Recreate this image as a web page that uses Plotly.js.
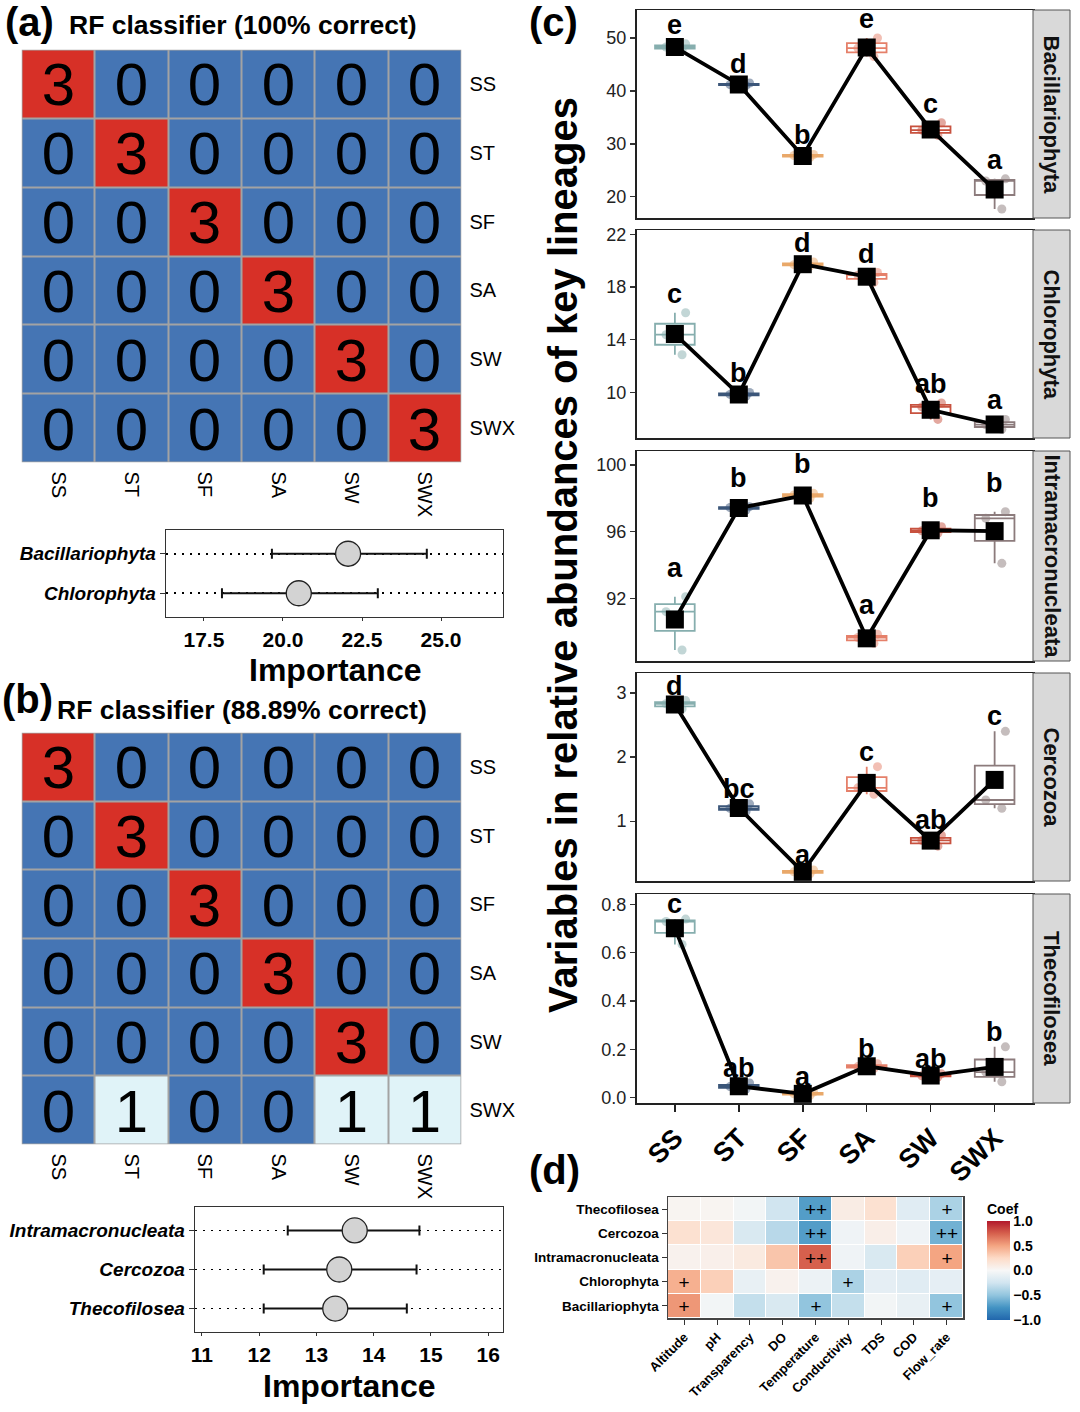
<!DOCTYPE html>
<html><head><meta charset="utf-8">
<script src="https://cdn.plot.ly/plotly-3.0.1.min.js"></script>
<style>html,body{margin:0;padding:0;background:#fff}#chart{width:1080px;height:1412px}</style>
</head><body><div id="chart"></div>
<script>
// ---------------- DATA ----------------
const classes = ['SS','ST','SF','SA','SW','SWX'];

const matrixA = [
  [3,0,0,0,0,0],
  [0,3,0,0,0,0],
  [0,0,3,0,0,0],
  [0,0,0,3,0,0],
  [0,0,0,0,3,0],
  [0,0,0,0,0,3]];
const matrixB = [
  [3,0,0,0,0,0],
  [0,3,0,0,0,0],
  [0,0,3,0,0,0],
  [0,0,0,3,0,0],
  [0,0,0,0,3,0],
  [0,1,0,0,1,1]];

const taxaA = ['Chlorophyta','Bacillariophyta'];
const impA = [20.5, 22.06];
const impA_lo = [18.07, 19.65];
const impA_hi = [23.0, 24.55];

const taxaB = ['Thecofilosea','Cercozoa','Intramacronucleata'];
const impB = [13.33, 13.4, 13.67];
const impB_lo = [12.08, 12.08, 12.5];
const impB_hi = [14.58, 14.75, 14.8];

const lineages = ['Bacillariophyta','Chlorophyta','Intramacronucleata','Cercozoa','Thecofilosea'];
const bacRep = [[47.7,48.3,48.9],[41.0,41.2,41.5],[27.4,27.8,28.0],[46.5,48.1,50.0],[31.6,32.6,34.0],[17.7,23.0,23.4]];
const chlRep = [[12.86,14.38,16.05],[9.7,9.85,10.0],[19.6,19.7,19.9],[18.35,18.9,19.1],[7.95,8.9,9.2],[7.2,7.55,7.95]];
const intRep = [[88.9,91.2,92.1],[97.3,97.45,97.5],[98.0,98.2,98.3],[89.3,89.65,89.85],[95.9,96.05,96.3],[94.1,96.8,97.2]];
const cerRep = [[2.75,2.83,2.88],[1.15,1.2,1.27],[0.18,0.21,0.24],[1.42,1.52,1.85],[0.61,0.7,0.78],[1.2,1.33,2.4]];
const theRep = [[0.635,0.73,0.74],[0.035,0.045,0.06],[0.008,0.015,0.022],[0.12,0.128,0.14],[0.085,0.09,0.098],[0.065,0.105,0.21]];

const bacLet = ['e','d','b','e','c','a'];
const chlLet = ['c','b','d','d','ab','a'];
const intLet = ['a','b','b','a','b','b'];
const cerLet = ['d','bc','a','c','ab','c'];
const theLet = ['c','ab','a','b','ab','b'];

const envVars = ['Altitude','pH','Transparency','DO','Temperature','Conductivity','TDS','COD','Flow_rate'];
const taxaD = ['Bacillariophyta','Chlorophyta','Intramacronucleata','Cercozoa','Thecofilosea'];
const coefBac = [0.55,-0.03,-0.3,-0.2,-0.5,-0.3,-0.03,-0.1,-0.5];
const coefChl = [0.45,0.3,-0.1,0.05,-0.07,-0.4,-0.12,-0.15,-0.12];
const coefInt = [0.05,0.07,0.12,0.35,0.75,-0.05,-0.2,0.3,0.5];
const coefCer = [0.2,0.15,-0.2,-0.35,-0.7,-0.05,0.08,-0.05,-0.6];
const coefThe = [0.03,0.03,-0.03,-0.25,-0.7,0.1,0.2,-0.15,-0.4];
const sigBac = ['+','','','','+','','','','+'];
const sigChl = ['+','','','','','+','','',''];
const sigInt = ['','','','','++','','','','+'];
const sigCer = ['','','','','++','','','','++'];
const sigThe = ['','','','','++','','','','+'];

// ---------------- STYLE / LAYOUT ----------------
const W = 1080, H = 1412;
const FONT = 'Liberation Sans, Arial, Helvetica, sans-serif';
const groupColors = ['#86aeae','#3b5679','#e9a869','#e5806a','#c8523f','#8c7b7c'];
const px = x => x / W;
const py = y => 1 - y / H;
const dX = (a,b) => [a / W, b / W];
const dY = (t,b) => [1 - b / H, 1 - t / H];
const an = n => n === 1 ? '' : String(n);

const traces = [], shapes = [], annotations = [];
const layout = {
  width: W, height: H, margin: {l:0, r:0, t:0, b:0},
  paper_bgcolor: '#fff', plot_bgcolor: 'rgba(0,0,0,0)',
  showlegend: false, font: {family: FONT, color: '#000'},
  shapes, annotations
};

function txt(x, y, text, size, opts) {
  annotations.push(Object.assign({
    xref:'paper', yref:'paper', x: px(x), y: py(y), text, showarrow:false,
    xanchor:'left', yanchor:'middle',
    font:{family:FONT, size, color:'#000', weight:'bold'}
  }, opts || {}));
}

// ---- confusion matrices ----
function confMatrix(n, z, xd, yd) {
  const a = an(n);
  shapes.push({type:'rect', xref:'x'+a, yref:'y'+a, x0:-0.5, x1:classes.length-0.5,
    y0:-0.5, y1:classes.length-0.5, fillcolor:'#a3a3a3', line:{width:0}, layer:'below'});
  traces.push({type:'heatmap', x:classes, y:classes, z, xaxis:'x'+a, yaxis:'y'+a,
    colorscale:[[0,'#4575b4'],[1/3,'#e0f3f8'],[2/3,'#fc8d59'],[1,'#d73027']],
    zmin:0, zmax:3, showscale:false, xgap:2, ygap:2,
    texttemplate:'%{z}', textfont:{size:60, color:'#000', family:FONT}, hoverinfo:'skip'});
  layout['xaxis'+a] = {domain:dX(xd[0],xd[1]), anchor:'y'+a, type:'category',
    categoryorder:'array', categoryarray:classes, range:[-0.5, classes.length-0.5],
    tickangle:90, tickfont:{size:20, family:FONT}, ticks:'', ticklabelstandoff:8,
    showline:false, showgrid:false, zeroline:false};
  layout['yaxis'+a] = {domain:dY(yd[0],yd[1]), anchor:'x'+a, type:'category',
    categoryorder:'array', categoryarray:classes, range:[classes.length-0.5, -0.5],
    side:'right', tickfont:{size:20, family:FONT}, ticks:'', ticklabelstandoff:7,
    showline:false, showgrid:false, zeroline:false};
}
confMatrix(1, matrixA, [21.5,461.5], [49.5,462.5]);
confMatrix(3, matrixB, [21.5,461.5], [732.5,1144.5]);

// ---- importance dot plots ----
function impPlot(n, taxa, val, lo, hi, xd, yd, xr, dt, fmt, titleY) {
  const a = an(n);
  traces.push({type:'scatter', mode:'markers', x:val, y:taxa, xaxis:'x'+a, yaxis:'y'+a,
    marker:{size:25, color:'#d3d3d3', line:{color:'#222', width:1.3}},
    error_x:{type:'data', symmetric:false,
      array: val.map((v,i)=>hi[i]-v), arrayminus: val.map((v,i)=>v-lo[i]),
      color:'#111', thickness:2, width:5}, hoverinfo:'skip'});
  layout['xaxis'+a] = {domain:dX(xd[0],xd[1]), anchor:'y'+a, range:xr, tick0:0, dtick:dt,
    tickformat:fmt, ticks:'outside', ticklen:3, tickcolor:'#333',
    tickfont:{size:21, weight:'bold', family:FONT},
    showline:true, mirror:true, linecolor:'#333', linewidth:1.3, showgrid:false, zeroline:false};
  layout['yaxis'+a] = {domain:dY(yd[0],yd[1]), anchor:'x'+a, type:'category',
    categoryorder:'array', categoryarray:taxa, range:[-0.6, taxa.length-0.4],
    showgrid:true, griddash:'2px,6px', gridcolor:'#000', gridwidth:1.6,
    ticks:'outside', ticklen:5, tickcolor:'#333',
    tickfont:{size:19, weight:'bold', style:'italic', family:FONT},
    showline:true, mirror:true, linecolor:'#333', linewidth:1.3, zeroline:false};
  txt((xd[0]+xd[1])/2, titleY, 'Importance', 32, {xanchor:'center'});
}
impPlot(2, taxaA, impA, impA_lo, impA_hi, [166,503], [530,617], [16.3,26.96], 2.5, '.1f', 670);
impPlot(4, taxaB, impB, impB_lo, impB_hi, [195,503], [1207,1332], [10.88,16.26], 1, 'd', 1386);

// ---- panel (c) facets ----
const facetReps = [bacRep, chlRep, intRep, cerRep, theRep];
const facetLets = [bacLet, chlLet, intLet, cerLet, theLet];
const facetRange = [[16.0,55.3],[6.54,22.33],[88.24,100.84],[0.067,3.31],[-0.023,0.844]];
const facetDtick = [10,4,4,1,0.2];
const facetTick0 = [0,2,0,0,0];
const facetFmt = ['d','d','d','d','.1f'];
const facetPx = [[10,218],[230,438],[451,661],[673,881],[894,1103]];
const letterShift = [19,19,29,15,15];
const cX = [636.5, 1033];

lineages.forEach((lin, i) => {
  const n = 5 + i, a = an(n);
  const reps = facetReps[i];
  reps.forEach((r, g) => {
    traces.push({type:'box', x:r.map(()=>classes[g]), y:r, xaxis:'x'+a, yaxis:'y'+a,
      boxpoints:'all', jitter:0.7, pointpos:0, width:0.62, whiskerwidth:0,
      quartilemethod:'inclusive', fillcolor:'rgba(255,255,255,0)',
      line:{color:groupColors[g], width:1.8},
      marker:{color:groupColors[g], opacity:0.5, size:9, line:{width:0}}, hoverinfo:'skip'});
  });
  const means = reps.map(r => r.reduce((s,v)=>s+v,0)/r.length);
  traces.push({type:'scatter', mode:'lines+markers', x:classes, y:means, xaxis:'x'+a, yaxis:'y'+a,
    line:{color:'#000', width:3.8}, marker:{symbol:'square', size:18, color:'#000'}, hoverinfo:'skip'});
  reps.forEach((r, g) => {
    annotations.push({xref:'x'+a, yref:'y'+a, x:classes[g], y:Math.max(...r), yshift:letterShift[i],
      text:facetLets[i][g], showarrow:false, yanchor:'middle',
      font:{family:FONT, size:27, weight:'bold', color:'#000'}});
  });
  const last = i === lineages.length - 1;
  layout['xaxis'+a] = {domain:dX(cX[0],cX[1]), anchor:'y'+a, type:'category',
    categoryorder:'array', categoryarray:classes, range:[-0.6,5.6],
    showticklabels:last, ticks: last ? 'outside' : '', ticklen:7, tickwidth:1.5, tickcolor:'#222',
    tickangle:-45, tickfont:{size:27, weight:'bold', family:FONT},
    showline:true, mirror:true, linecolor:'#222', linewidth:1.5, showgrid:false, zeroline:false};
  layout['yaxis'+a] = {domain:dY(facetPx[i][0], facetPx[i][1]), anchor:'x'+a,
    range:facetRange[i], tick0:facetTick0[i], dtick:facetDtick[i], tickformat:facetFmt[i],
    ticks:'outside', ticklen:5, tickwidth:1.3, tickcolor:'#333',
    tickfont:{size:18, family:FONT, color:'#222'},
    showline:true, mirror:true, linecolor:'#222', linewidth:1.5, showgrid:false, zeroline:false};
  // strip
  shapes.push({type:'rect', xref:'paper', yref:'paper', x0:px(1033), x1:px(1070),
    y0:py(facetPx[i][1]), y1:py(facetPx[i][0]), fillcolor:'#d9d9d9', line:{color:'#555', width:1}});
  annotations.push({xref:'paper', yref:'paper', x:px(1051.5), y:py((facetPx[i][0]+facetPx[i][1])/2),
    text:lin, textangle:90, showarrow:false, xanchor:'center', yanchor:'middle',
    font:{family:FONT, size:22, weight:'bold', color:'#111'}});
});
annotations.push({xref:'paper', yref:'paper', x:px(563), y:py(555),
  text:'Variables in relative abundances of key lineages', textangle:-90, showarrow:false,
  xanchor:'center', yanchor:'middle', font:{family:FONT, size:40, weight:'bold', color:'#000'}});

// ---- panel (d) heatmap ----
traces.push({type:'heatmap', x:envVars, y:taxaD, z:[coefBac,coefChl,coefInt,coefCer,coefThe],
  text:[sigBac,sigChl,sigInt,sigCer,sigThe], texttemplate:'%{text}',
  textfont:{size:19, color:'#000', family:FONT},
  xaxis:'x10', yaxis:'y10', zmin:-1, zmax:1, xgap:1, ygap:1,
  colorscale:[[0,'#2166ac'],[0.125,'#4393c3'],[0.25,'#92c5de'],[0.375,'#d1e5f0'],[0.5,'#f7f7f7'],
              [0.625,'#fddbc7'],[0.75,'#f4a582'],[0.875,'#d6604d'],[1,'#b2182b']],
  hoverinfo:'skip',
  colorbar:{x:px(987), xanchor:'left', y:py(1260), yanchor:'middle', lenmode:'pixels', len:120,
    thickness:23, xpad:0, ypad:0, outlinewidth:0, tickvals:[-1,-0.5,0,0.5,1], tickformat:'.1f',
    ticks:'', tickfont:{size:14, weight:'bold', family:FONT},
    title:{text:'Coef', side:'top', font:{size:14, weight:'bold', family:FONT}}}});
layout.xaxis10 = {domain:dX(668,963), anchor:'y10', type:'category', categoryorder:'array',
  categoryarray:envVars, tickangle:-45, tickfont:{size:13, weight:'bold', family:FONT},
  ticks:'outside', ticklen:5, tickcolor:'#333', showline:true, mirror:true, linecolor:'#444',
  linewidth:1.5, showgrid:false, zeroline:false};
layout.yaxis10 = {domain:dY(1197,1318), anchor:'x10', type:'category', categoryorder:'array',
  categoryarray:taxaD, tickfont:{size:13.5, weight:'bold', family:FONT},
  ticks:'outside', ticklen:5, tickcolor:'#333', showline:true, mirror:true, linecolor:'#444',
  linewidth:1.5, showgrid:false, zeroline:false};

// ---- titles / panel letters ----
txt(3, 22, '(a)', 40);
txt(67, 25, 'RF classifier (100% correct)', 26.5);
txt(0, 699, '(b)', 40);
txt(55, 710, 'RF classifier (88.89% correct)', 26.5);
txt(527, 22, '(c)', 40);
txt(527, 1170, '(d)', 40);

Plotly.newPlot('chart', traces, layout, {staticPlot:true, displayModeBar:false});
</script>
</body></html>
